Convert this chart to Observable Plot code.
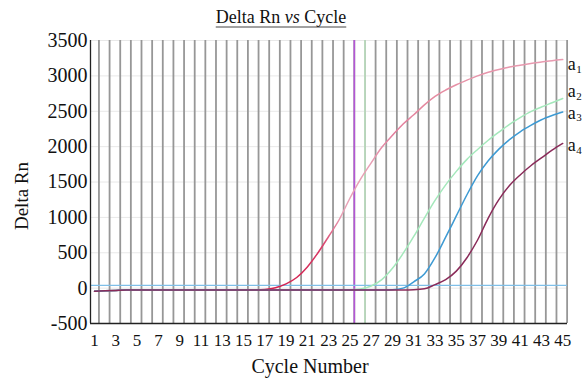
<!DOCTYPE html>
<html><head><meta charset="utf-8">
<script src="https://cdn.jsdelivr.net/npm/d3@7"></script>
<script src="https://cdn.jsdelivr.net/npm/@observablehq/plot@0.6"></script>
<style>
body{margin:0;background:#fff}
#chart svg, #chart svg text{font-family:"Liberation Serif",serif !important}
</style>
</head><body><div id="chart"></div>
<script>
const cycles = [1,2,3,4,5,6,7,8,9,10,11,12,13,14,15,16,17,18,19,20,21,22,23,24,25,26,27,28,29,30,31,32,33,34,35,36,37,38,39,40,41,42,43,44,45];
const a1 = [-45,-38,-32,-28,-26,-25,-25,-25,-25,-25,-25,-25,-25,-25,-25,-24,-18,5,60,150,300,500,730,970,1270,1540,1770,1990,2160,2320,2450,2590,2710,2800,2875,2940,3000,3050,3090,3125,3150,3175,3195,3215,3230];
const a2 = [-45,-38,-32,-28,-26,-25,-25,-25,-25,-25,-25,-25,-25,-25,-25,-25,-25,-25,-25,-25,-25,-25,-25,-25,-24,-12,30,120,280,490,730,990,1240,1460,1650,1820,1960,2090,2205,2315,2410,2495,2560,2620,2680];
const a3 = [-45,-38,-32,-28,-26,-25,-25,-25,-25,-25,-25,-25,-25,-25,-25,-25,-25,-25,-25,-25,-25,-25,-25,-25,-25,-25,-25,-25,-22,0,90,200,430,720,1020,1320,1590,1800,1965,2100,2210,2300,2380,2440,2490];
const a4 = [-45,-38,-32,-28,-26,-25,-25,-25,-25,-25,-25,-25,-25,-25,-25,-25,-25,-25,-25,-25,-25,-25,-25,-25,-25,-25,-25,-25,-25,-25,-22,-10,50,120,240,430,680,990,1250,1450,1600,1730,1840,1950,2045];
const seriesNames = ["a1","a2","a3","a4"];
const seriesValues = [a1,a2,a3,a4];
const seriesColors = ["#dd7593","#a4e8bb","#3d9ad3","#8a2b59"];
const xTickLabels = [1,3,5,7,9,11,13,15,17,19,21,23,25,27,29,31,33,35,37,39,41,43,45];
const yTickLabels = [-500,0,500,1000,1500,2000,2500,3000,3500];
const threshold = 40;
const markedCycles = [25];
const greenCycles = [26];

const rows = seriesNames.flatMap((s,i)=>cycles.map((c,j)=>({series:s, cycle:c, value:seriesValues[i][j]})));
const ends = seriesNames.map((s,i)=>({series:s, base:"a", sub:s.slice(1), cycle:cycles[cycles.length-1], value:seriesValues[i][seriesValues[i].length-1]}));
const labelDy = {a1:5, a2:-7, a3:1, a4:2};
const serif = "Liberation Serif";

function shiftDy(extra) {
  return (index, scales, values, dims, ctx, next) => {
    const g = next(index, scales, values, dims, ctx);
    d3.select(g).selectAll("text").each(function(_, k){ d3.select(this).attr("dy", (labelDy[ends[index[k]].series] + extra) + "px"); });
    return g;
  };
}

const W = 582, H = 380;
const plot = Plot.plot({
  width: W, height: H,
  marginLeft: 90, marginRight: 15, marginTop: 40, marginBottom: 57,
  style: {background: "#fff", color: "#000"},
  x: {domain: [0.62, 45.45]},
  y: {domain: [-500, 3500]},
  color: {domain: seriesNames, range: seriesColors},
  marks: [
    Plot.ruleY(yTickLabels, {stroke: "#e8e8e8", strokeWidth: 1}),
    Plot.ruleX(cycles, {dx: 4.4, stroke: "#979797", strokeWidth: 1.8}),
    Plot.ruleX(markedCycles, {dx: 4.4, stroke: "#b455d6", strokeWidth: 1.6}),
    Plot.ruleX(greenCycles, {dx: 4.4, stroke: "#bfe3c3", strokeWidth: 1.6}),
    Plot.ruleY([threshold], {stroke: "#7fbfe8", strokeWidth: 1.3}),
    Plot.line(rows.filter(d => d.series === "a1"), {x: "cycle", y: "value", stroke: "url(#gradA1)", strokeWidth: 1.5, curve: "monotone-x"}),
    Plot.line(rows.filter(d => d.series !== "a1"), {x: "cycle", y: "value", z: "series", stroke: "series", strokeWidth: 1.5, curve: "monotone-x"}),
    Plot.ruleX([0.62], {stroke: "#222", strokeWidth: 1.3}),
    Plot.ruleY([-500], {stroke: "#222", strokeWidth: 1.5}),
    Plot.axisX(xTickLabels, {tickSize: 0, tickPadding: 10, fontSize: 17, fill: "#111", fontFamily: serif, label: null, tickFormat: d => String(d)}),
    Plot.axisY(yTickLabels, {tickSize: 0, tickPadding: 3, fontSize: 20, fill: "#111", fontFamily: serif, label: null, tickFormat: d => String(d)}),
    Plot.text(ends, {x: "cycle", y: "value", text: "base", textAnchor: "start", dx: 5, fontSize: 18, fill: "#111", fontFamily: serif, render: shiftDy(0)}),
    Plot.text(ends, {x: "cycle", y: "value", text: "sub", textAnchor: "start", dx: 13.5, fontSize: 11, fill: "#111", fontFamily: serif, render: shiftDy(5)})
  ]
});
document.getElementById("chart").appendChild(plot);

const svg = d3.select(plot);
const ys = plot.scale("y");
const grad = svg.insert("defs", ":first-child").append("linearGradient").attr("id", "gradA1")
  .attr("gradientUnits", "userSpaceOnUse").attr("x1", 0).attr("x2", 0)
  .attr("y1", ys.apply(0)).attr("y2", ys.apply(3500));
[[0, "#d3204f"], [0.16, "#d83a66"], [0.3, "#e9a2b7"], [0.5, "#e8a0b5"], [0.62, "#e27d9c"], [0.75, "#e5899f"], [1, "#e9a3b8"]]
  .forEach(([o, c]) => grad.append("stop").attr("offset", o).attr("stop-color", c));

svg.selectAll("text").style("font-family", "Liberation Serif, serif");
const title = svg.append("text").attr("x", 281).attr("y", 23).attr("text-anchor", "middle")
  .attr("font-size", 18).attr("fill", "#111").style("font-family", "Liberation Serif, serif");
title.append("tspan").text("Delta Rn ");
title.append("tspan").attr("font-style", "italic").text("vs");
title.append("tspan").text(" Cycle");
const bb = title.node().getBBox();
svg.append("line").attr("x1", bb.x).attr("x2", bb.x + bb.width).attr("y1", 27).attr("y2", 27)
  .attr("stroke", "#444").attr("stroke-width", 1);
svg.append("text").attr("transform", "translate(28,196) rotate(-90)").attr("text-anchor", "middle")
  .attr("font-size", 19).attr("fill", "#111").style("font-family", "Liberation Serif, serif").text("Delta Rn");
svg.append("text").attr("x", 310).attr("y", 373).attr("text-anchor", "middle")
  .attr("font-size", 20).attr("fill", "#111").style("font-family", "Liberation Serif, serif").text("Cycle Number");
</script>
</body></html>
